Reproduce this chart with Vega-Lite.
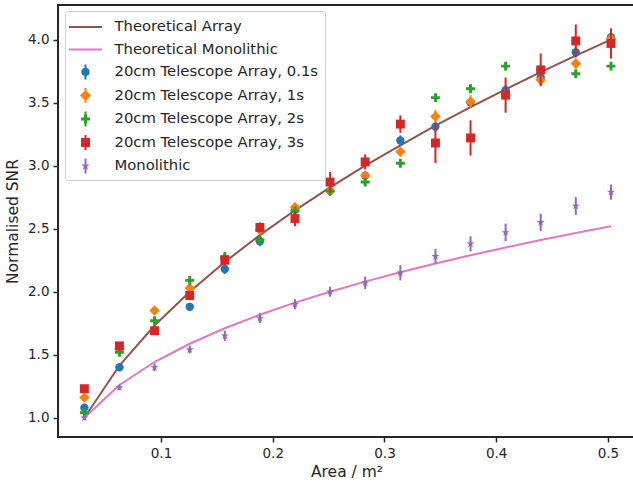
{
  "$schema": "https://vega.github.io/schema/vega-lite/v6.json",
  "width": 577,
  "height": 432,
  "autosize": "none",
  "padding": {"left": 58, "top": 5, "right": 0, "bottom": 46},
  "background": "white",
  "datasets": {
    "d": [
      {"s": "Theoretical Array", "x": 0.0314, "y": 1.0},
      {"s": "Theoretical Array", "x": 0.0628, "y": 1.414},
      {"s": "Theoretical Array", "x": 0.0942, "y": 1.732},
      {"s": "Theoretical Array", "x": 0.1257, "y": 2.0},
      {"s": "Theoretical Array", "x": 0.1571, "y": 2.236},
      {"s": "Theoretical Array", "x": 0.1885, "y": 2.449},
      {"s": "Theoretical Array", "x": 0.2199, "y": 2.646},
      {"s": "Theoretical Array", "x": 0.2513, "y": 2.828},
      {"s": "Theoretical Array", "x": 0.2827, "y": 3.0},
      {"s": "Theoretical Array", "x": 0.3142, "y": 3.162},
      {"s": "Theoretical Array", "x": 0.3456, "y": 3.317},
      {"s": "Theoretical Array", "x": 0.377, "y": 3.464},
      {"s": "Theoretical Array", "x": 0.4084, "y": 3.606},
      {"s": "Theoretical Array", "x": 0.4398, "y": 3.742},
      {"s": "Theoretical Array", "x": 0.4712, "y": 3.873},
      {"s": "Theoretical Array", "x": 0.5027, "y": 4.0},
      {"s": "Theoretical Monolithic", "x": 0.0314, "y": 1.0},
      {"s": "Theoretical Monolithic", "x": 0.0628, "y": 1.26},
      {"s": "Theoretical Monolithic", "x": 0.0942, "y": 1.442},
      {"s": "Theoretical Monolithic", "x": 0.1257, "y": 1.587},
      {"s": "Theoretical Monolithic", "x": 0.1571, "y": 1.71},
      {"s": "Theoretical Monolithic", "x": 0.1885, "y": 1.817},
      {"s": "Theoretical Monolithic", "x": 0.2199, "y": 1.913},
      {"s": "Theoretical Monolithic", "x": 0.2513, "y": 2.0},
      {"s": "Theoretical Monolithic", "x": 0.2827, "y": 2.08},
      {"s": "Theoretical Monolithic", "x": 0.3142, "y": 2.154},
      {"s": "Theoretical Monolithic", "x": 0.3456, "y": 2.224},
      {"s": "Theoretical Monolithic", "x": 0.377, "y": 2.289},
      {"s": "Theoretical Monolithic", "x": 0.4084, "y": 2.351},
      {"s": "Theoretical Monolithic", "x": 0.4398, "y": 2.41},
      {"s": "Theoretical Monolithic", "x": 0.4712, "y": 2.466},
      {"s": "Theoretical Monolithic", "x": 0.5027, "y": 2.52},
      {"s": "20cm Telescope Array, 0.1s", "x": 0.0314, "y": 1.08, "e": 0.03},
      {"s": "20cm Telescope Array, 0.1s", "x": 0.0628, "y": 1.4, "e": 0.03},
      {"s": "20cm Telescope Array, 0.1s", "x": 0.0942, "y": 1.69, "e": 0.03},
      {"s": "20cm Telescope Array, 0.1s", "x": 0.1257, "y": 1.88, "e": 0.03},
      {"s": "20cm Telescope Array, 0.1s", "x": 0.1571, "y": 2.18, "e": 0.04},
      {"s": "20cm Telescope Array, 0.1s", "x": 0.1885, "y": 2.4, "e": 0.04},
      {"s": "20cm Telescope Array, 0.1s", "x": 0.2199, "y": 2.65, "e": 0.04},
      {"s": "20cm Telescope Array, 0.1s", "x": 0.2513, "y": 2.8, "e": 0.04},
      {"s": "20cm Telescope Array, 0.1s", "x": 0.2827, "y": 2.92, "e": 0.04},
      {"s": "20cm Telescope Array, 0.1s", "x": 0.3142, "y": 3.2, "e": 0.04},
      {"s": "20cm Telescope Array, 0.1s", "x": 0.3456, "y": 3.31, "e": 0.04},
      {"s": "20cm Telescope Array, 0.1s", "x": 0.377, "y": 3.5, "e": 0.04},
      {"s": "20cm Telescope Array, 0.1s", "x": 0.4084, "y": 3.6, "e": 0.04},
      {"s": "20cm Telescope Array, 0.1s", "x": 0.4398, "y": 3.7, "e": 0.04},
      {"s": "20cm Telescope Array, 0.1s", "x": 0.4712, "y": 3.9, "e": 0.04},
      {"s": "20cm Telescope Array, 0.1s", "x": 0.5027, "y": 4.02, "e": 0.04},
      {"s": "20cm Telescope Array, 1s", "x": 0.0314, "y": 1.16, "e": 0.02},
      {"s": "20cm Telescope Array, 1s", "x": 0.0628, "y": 1.55, "e": 0.02},
      {"s": "20cm Telescope Array, 1s", "x": 0.0942, "y": 1.85, "e": 0.02},
      {"s": "20cm Telescope Array, 1s", "x": 0.1257, "y": 2.03, "e": 0.03},
      {"s": "20cm Telescope Array, 1s", "x": 0.1571, "y": 2.26, "e": 0.03},
      {"s": "20cm Telescope Array, 1s", "x": 0.1885, "y": 2.49, "e": 0.03},
      {"s": "20cm Telescope Array, 1s", "x": 0.2199, "y": 2.67, "e": 0.03},
      {"s": "20cm Telescope Array, 1s", "x": 0.2513, "y": 2.8, "e": 0.03},
      {"s": "20cm Telescope Array, 1s", "x": 0.2827, "y": 2.92, "e": 0.03},
      {"s": "20cm Telescope Array, 1s", "x": 0.3142, "y": 3.11, "e": 0.03},
      {"s": "20cm Telescope Array, 1s", "x": 0.3456, "y": 3.39, "e": 0.05},
      {"s": "20cm Telescope Array, 1s", "x": 0.377, "y": 3.51, "e": 0.05},
      {"s": "20cm Telescope Array, 1s", "x": 0.4084, "y": 3.56, "e": 0.04},
      {"s": "20cm Telescope Array, 1s", "x": 0.4398, "y": 3.68, "e": 0.04},
      {"s": "20cm Telescope Array, 1s", "x": 0.4712, "y": 3.81, "e": 0.04},
      {"s": "20cm Telescope Array, 1s", "x": 0.5027, "y": 4.01, "e": 0.04},
      {"s": "20cm Telescope Array, 2s", "x": 0.0314, "y": 1.04, "e": 0.02},
      {"s": "20cm Telescope Array, 2s", "x": 0.0628, "y": 1.52, "e": 0.02},
      {"s": "20cm Telescope Array, 2s", "x": 0.0942, "y": 1.77, "e": 0.02},
      {"s": "20cm Telescope Array, 2s", "x": 0.1257, "y": 2.09, "e": 0.02},
      {"s": "20cm Telescope Array, 2s", "x": 0.1571, "y": 2.28, "e": 0.02},
      {"s": "20cm Telescope Array, 2s", "x": 0.1885, "y": 2.41, "e": 0.02},
      {"s": "20cm Telescope Array, 2s", "x": 0.2199, "y": 2.64, "e": 0.02},
      {"s": "20cm Telescope Array, 2s", "x": 0.2513, "y": 2.8, "e": 0.02},
      {"s": "20cm Telescope Array, 2s", "x": 0.2827, "y": 2.87, "e": 0.02},
      {"s": "20cm Telescope Array, 2s", "x": 0.3142, "y": 3.02, "e": 0.02},
      {"s": "20cm Telescope Array, 2s", "x": 0.3456, "y": 3.54, "e": 0.02},
      {"s": "20cm Telescope Array, 2s", "x": 0.377, "y": 3.61, "e": 0.02},
      {"s": "20cm Telescope Array, 2s", "x": 0.4084, "y": 3.79, "e": 0.02},
      {"s": "20cm Telescope Array, 2s", "x": 0.4398, "y": 3.76, "e": 0.02},
      {"s": "20cm Telescope Array, 2s", "x": 0.4712, "y": 3.73, "e": 0.02},
      {"s": "20cm Telescope Array, 2s", "x": 0.5027, "y": 3.79, "e": 0.02},
      {"s": "20cm Telescope Array, 3s", "x": 0.0314, "y": 1.23, "e": 0.03},
      {"s": "20cm Telescope Array, 3s", "x": 0.0628, "y": 1.57, "e": 0.03},
      {"s": "20cm Telescope Array, 3s", "x": 0.0942, "y": 1.69, "e": 0.03},
      {"s": "20cm Telescope Array, 3s", "x": 0.1257, "y": 1.97, "e": 0.03},
      {"s": "20cm Telescope Array, 3s", "x": 0.1571, "y": 2.25, "e": 0.04},
      {"s": "20cm Telescope Array, 3s", "x": 0.1885, "y": 2.51, "e": 0.04},
      {"s": "20cm Telescope Array, 3s", "x": 0.2199, "y": 2.58, "e": 0.06},
      {"s": "20cm Telescope Array, 3s", "x": 0.2513, "y": 2.87, "e": 0.08},
      {"s": "20cm Telescope Array, 3s", "x": 0.2827, "y": 3.03, "e": 0.06},
      {"s": "20cm Telescope Array, 3s", "x": 0.3142, "y": 3.33, "e": 0.07},
      {"s": "20cm Telescope Array, 3s", "x": 0.3456, "y": 3.18, "e": 0.16},
      {"s": "20cm Telescope Array, 3s", "x": 0.377, "y": 3.22, "e": 0.14},
      {"s": "20cm Telescope Array, 3s", "x": 0.4084, "y": 3.56, "e": 0.14},
      {"s": "20cm Telescope Array, 3s", "x": 0.4398, "y": 3.76, "e": 0.13},
      {"s": "20cm Telescope Array, 3s", "x": 0.4712, "y": 3.99, "e": 0.13},
      {"s": "20cm Telescope Array, 3s", "x": 0.5027, "y": 3.97, "e": 0.12},
      {"s": "Monolithic", "x": 0.0314, "y": 1.0, "e": 0.02},
      {"s": "Monolithic", "x": 0.0628, "y": 1.24, "e": 0.02},
      {"s": "Monolithic", "x": 0.0942, "y": 1.4, "e": 0.03},
      {"s": "Monolithic", "x": 0.1257, "y": 1.54, "e": 0.03},
      {"s": "Monolithic", "x": 0.1571, "y": 1.65, "e": 0.04},
      {"s": "Monolithic", "x": 0.1885, "y": 1.79, "e": 0.04},
      {"s": "Monolithic", "x": 0.2199, "y": 1.9, "e": 0.04},
      {"s": "Monolithic", "x": 0.2513, "y": 2.0, "e": 0.04},
      {"s": "Monolithic", "x": 0.2827, "y": 2.07, "e": 0.05},
      {"s": "Monolithic", "x": 0.3142, "y": 2.15, "e": 0.06},
      {"s": "Monolithic", "x": 0.3456, "y": 2.28, "e": 0.06},
      {"s": "Monolithic", "x": 0.377, "y": 2.38, "e": 0.06},
      {"s": "Monolithic", "x": 0.4084, "y": 2.47, "e": 0.07},
      {"s": "Monolithic", "x": 0.4398, "y": 2.55, "e": 0.07},
      {"s": "Monolithic", "x": 0.4712, "y": 2.68, "e": 0.07},
      {"s": "Monolithic", "x": 0.5027, "y": 2.79, "e": 0.06}
    ]
  },
  "data": {"name": "d"},
  "encoding": {
    "x": {
      "field": "x", "type": "quantitative",
      "scale": {"domain": [0.0078, 0.5242], "nice": false, "zero": false},
      "axis": {"values": [0.1, 0.2, 0.3, 0.4, 0.5], "format": ".1f", "title": "Area / m²", "titlePadding": 5},
      "title": "Area / m²"
    },
    "y": {
      "field": "y", "type": "quantitative",
      "scale": {"domain": [0.847, 4.275], "nice": false, "zero": false},
      "axis": {"values": [1, 1.5, 2, 2.5, 3, 3.5, 4], "format": ".1f", "title": "Normalised SNR", "titlePadding": 7},
      "title": "Normalised SNR"
    }
  },
  "layer": [
    {"transform": [{"filter": "datum.s === 'Theoretical Array'"}], "mark": {"type": "line", "color": "#8c564b", "strokeWidth": 2}},
    {"transform": [{"filter": "datum.s === 'Theoretical Monolithic'"}], "mark": {"type": "line", "color": "#e377c2", "strokeWidth": 2}},
    {"transform": [{"filter": "datum.s === '20cm Telescope Array, 0.1s'"}], "mark": {"type": "errorbar", "color": "#1f77b4", "thickness": 2}, "encoding": {"yError": {"field": "e"}}},
    {"transform": [{"filter": "datum.s === '20cm Telescope Array, 0.1s'"}], "mark": {"type": "point", "shape": "circle", "filled": true, "opacity": 1, "color": "#1f77b4", "size": 70}},
    {"transform": [{"filter": "datum.s === '20cm Telescope Array, 1s'"}], "mark": {"type": "errorbar", "color": "#ff7f0e", "thickness": 2}, "encoding": {"yError": {"field": "e"}}},
    {"transform": [{"filter": "datum.s === '20cm Telescope Array, 1s'"}], "mark": {"type": "point", "shape": "diamond", "filled": true, "opacity": 1, "color": "#ff7f0e", "size": 110}},
    {"transform": [{"filter": "datum.s === '20cm Telescope Array, 2s'"}], "mark": {"type": "errorbar", "color": "#2ca02c", "thickness": 2}, "encoding": {"yError": {"field": "e"}}},
    {"transform": [{"filter": "datum.s === '20cm Telescope Array, 2s'"}], "mark": {"type": "point", "shape": "M-0.33,-1H0.33V-0.33H1V0.33H0.33V1H-0.33V0.33H-1V-0.33H-0.33Z", "filled": true, "opacity": 1, "color": "#2ca02c", "size": 80}},
    {"transform": [{"filter": "datum.s === '20cm Telescope Array, 3s'"}], "mark": {"type": "errorbar", "color": "#d62728", "thickness": 2}, "encoding": {"yError": {"field": "e"}}},
    {"transform": [{"filter": "datum.s === '20cm Telescope Array, 3s'"}], "mark": {"type": "point", "shape": "square", "filled": true, "opacity": 1, "color": "#d62728", "size": 80}},
    {"transform": [{"filter": "datum.s === 'Monolithic'"}], "mark": {"type": "errorbar", "color": "#9467bd", "thickness": 2}, "encoding": {"yError": {"field": "e"}}},
    {"transform": [{"filter": "datum.s === 'Monolithic'"}], "mark": {"type": "point", "shape": "M0,-1L0.225,-0.309L0.951,-0.309L0.364,0.118L0.588,0.809L0,0.382L-0.588,0.809L-0.364,0.118L-0.951,-0.309L-0.225,-0.309Z", "filled": true, "opacity": 1, "color": "#9467bd", "size": 70}},
    {
      "mark": {"type": "point", "filled": true, "opacity": 0},
      "encoding": {
        "color": {
          "field": "s", "type": "nominal",
          "scale": {
            "domain": ["Theoretical Array", "Theoretical Monolithic", "20cm Telescope Array, 0.1s", "20cm Telescope Array, 1s", "20cm Telescope Array, 2s", "20cm Telescope Array, 3s", "Monolithic"],
            "range": ["#8c564b", "#e377c2", "#1f77b4", "#ff7f0e", "#2ca02c", "#d62728", "#9467bd"]
          },
          "legend": {"title": null, "orient": "none", "legendX": 7, "legendY": 6}
        },
        "shape": {
          "field": "s", "type": "nominal",
          "scale": {
            "domain": ["Theoretical Array", "Theoretical Monolithic", "20cm Telescope Array, 0.1s", "20cm Telescope Array, 1s", "20cm Telescope Array, 2s", "20cm Telescope Array, 3s", "Monolithic"],
            "range": [
              "M-1.65,-0.1H1.65V0.1H-1.65Z",
              "M-1.65,-0.1H1.65V0.1H-1.65Z",
              "M0,-0.42A0.42,0.42 0 1 1 0,0.42A0.42,0.42 0 1 1 0,-0.42Z M-0.1,-0.75H0.1V0.75H-0.1Z",
              "M0,-0.55L0.55,0L0,0.55L-0.55,0Z M-0.1,-0.75H0.1V0.75H-0.1Z",
              "M-0.15,-0.45H0.15V-0.15H0.45V0.15H0.15V0.45H-0.15V0.15H-0.45V-0.15H-0.15Z M-0.1,-0.75H0.1V0.75H-0.1Z",
              "M-0.45,-0.45H0.45V0.45H-0.45Z M-0.1,-0.75H0.1V0.75H-0.1Z",
              "M0,-0.45L0.102,-0.139L0.428,-0.139L0.164,0.053L0.265,0.364L0,0.172L-0.265,0.364L-0.164,0.053L-0.428,-0.139L-0.102,-0.139Z M-0.1,-0.75H0.1V0.75H-0.1Z"
            ]
          },
          "legend": {"title": null, "orient": "none", "legendX": 7, "legendY": 6}
        }
      }
    }
  ],
  "config": {
    "font": "DejaVu Sans",
    "view": {"stroke": "#262626", "strokeWidth": 2},
    "axis": {
      "grid": false,
      "domain": false,
      "ticks": true,
      "tickSize": 5,
      "tickWidth": 1.5,
      "tickColor": "#262626",
      "labelFontSize": 13.5,
      "labelColor": "#262626",
      "labelPadding": 4,
      "titleFontSize": 15.5,
      "titleFontWeight": "normal",
      "titleColor": "#262626"
    },
    "legend": {
      "symbolSize": 400,
      "symbolStrokeWidth": 0,
      "symbolOpacity": 1,
      "symbolOffset": 4.5,
      "labelFontSize": 14.8,
      "labelColor": "#262626",
      "labelOffset": 19,
      "labelLimit": 400,
      "padding": 6,
      "rowPadding": 5.5,
      "fillColor": "rgba(255,255,255,0.8)",
      "strokeColor": "#d0d0d0",
      "cornerRadius": 3
    }
  }
}
